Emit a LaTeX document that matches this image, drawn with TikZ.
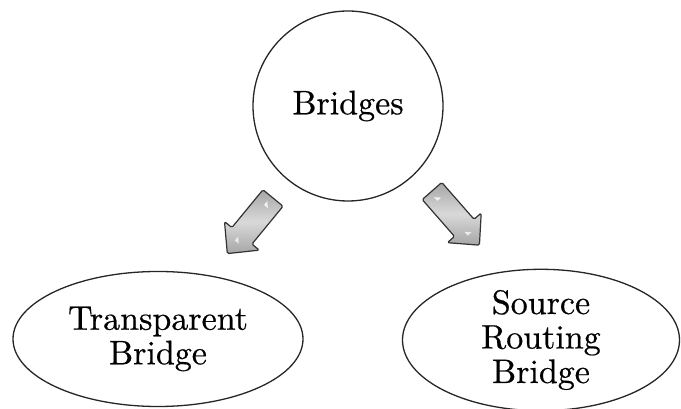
\documentclass[tikz,border=0pt]{standalone}
\usepackage{fontspec}
\setmainfont{lmroman10-regular.otf}[FakeBold=0.5]
\usetikzlibrary{shapes.geometric}
\begin{document}
\begin{tikzpicture}[x=1pt,y=1pt,
  outline/.style={draw=black!85, line width=1.3pt, fill=white, inner sep=0pt, align=center,
                  font=\fontsize{34}{34.5}\selectfont},
  pics/blockarrow/.style={code={
    \shade[draw=black!80, line width=1.2pt, rounded corners=1.5pt,
           top color=gray!70, bottom color=gray!70, middle color=gray!30]
      (0,13) -- (49,13) -- (49,22.5) -- (72,0) -- (49,-22.5) -- (49,-13) -- (0,-13) -- cycle;
    \fill[white!90!gray] (6,-2.5) -- (11,-2.5) -- (11,2.5) -- cycle;
    \fill[white!85!gray] (52,-2.5) -- (57,-2.5) -- (57,2.5) -- cycle;
  }}]
\useasboundingbox (0,0) rectangle (681,409);

\node[outline, circle, minimum size=190pt] (br) at (348,303) {Bridges};
\node[outline, ellipse, minimum width=290pt, minimum height=135pt] (tb) at (158,70)
  {Transparent\\Bridge};
\node[outline, ellipse, minimum width=277pt, minimum height=134pt] (sr) at (541,69)
  {Source\\Routing\\Bridge};

% block arrows from the root to each kind of bridge
\coordinate (ltail) at (273,211);
\coordinate (rtail) at (432,218);
\pic[rotate=-129.4] at (ltail) {blockarrow};
\pic[rotate=-48.8] at (rtail) {blockarrow};
\end{tikzpicture}
\end{document}
